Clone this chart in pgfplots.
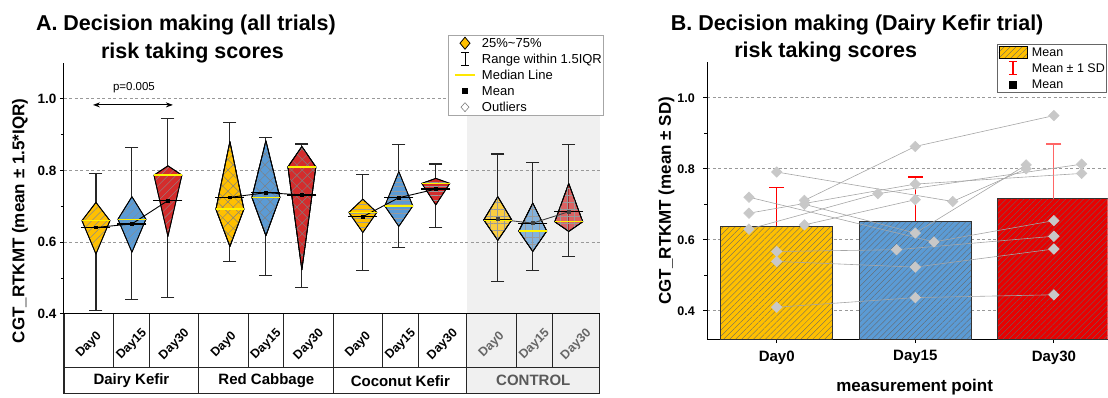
\documentclass[border=0pt]{standalone}
\usepackage{fontspec}
\setmainfont{Liberation Sans}
\usepackage{pgfplots}
\pgfplotsset{compat=1.18}
\usetikzlibrary{patterns.meta,arrows.meta}

\definecolor{yA}{HTML}{FFC000}
\definecolor{bA}{HTML}{5B9BD5}
\definecolor{rA}{HTML}{D42C2C}
\definecolor{rB}{HTML}{E80000}
\definecolor{ptgray}{HTML}{C8C8C8}
\definecolor{lngray}{HTML}{A6A6A6}
\definecolor{bggray}{HTML}{F0F0F0}
\newcommand\fs[1]{\fontsize{#1}{#1}\selectfont}

\pgfplotsset{
 whisk/.style={color=black!85, line width=1.1pt, forget plot},
 capm/.style={color=black!85, only marks, mark=-, mark size=6.5pt, mark options={line width=1.1pt}, forget plot},
 medm/.style={color=yellow, only marks, mark=-, mark size=14pt, mark options={line width=1.4pt}, forget plot},
 meanm/.style={color=black, only marks, mark=-, mark size=14.5pt, mark options={line width=1.3pt}, forget plot},
 kite/.style={fill=#1, draw=black, line width=0.8pt, line join=round, forget plot},
 pDK/.style={postaction={pattern={Lines[angle=45,distance=5.5pt,line width=0.45pt]}, pattern color=black!45}},
 pRC/.style={postaction={pattern={Lines[angle=45,distance=7.5pt,line width=0.45pt]}, pattern color=black!50},
             postaction={pattern={Lines[angle=-45,distance=7.5pt,line width=0.45pt]}, pattern color=black!50}},
 pCK/.style={postaction={pattern={Lines[angle=0,distance=4.5pt,line width=0.4pt]}, pattern color=black!40}},
 pCT/.style={fill opacity=0.72,
             postaction={pattern={Lines[angle=0,distance=7pt,line width=0.4pt]}, pattern color=black!40},
             postaction={pattern={Lines[angle=90,distance=7pt,line width=0.4pt]}, pattern color=black!40}},
 meanline/.style={color=#1, line width=0.9pt, mark=square*, mark size=1.4pt, forget plot},
 subj/.style={color=lngray, line width=0.6pt, mark=square*, mark size=3.7pt,
              mark options={rotate=45, fill=ptgray, draw=ptgray}, forget plot},
 barB/.style={ybar, bar width=0.81, bar shift=0pt, fill=#1, draw=black!80, line width=0.8pt,
              postaction={pattern={Lines[angle=45,distance=4.2pt,line width=0.35pt]}, pattern color=black!60}, forget plot},
}

% #1 x, #2 min, #3 q25, #4 median, #5 q75, #6 max, #7 mean, #8 colour, #9 pattern
\newcommand\bx[9]{%
  \pgfmathsetmacro\kl{#1-14}\pgfmathsetmacro\kr{#1+14}%
  \addplot[whisk] coordinates {(#1,#2) (#1,#6)};
  \addplot[capm] coordinates {(#1,#2) (#1,#6)};
  \addplot[kite=#8,#9] coordinates {(#1,#5) (\kr,#4) (#1,#3) (\kl,#4) (#1,#5)};
  \addplot[medm] coordinates {(#1,#4)};
  \addplot[meanm] coordinates {(#1,#7)};
}

\begin{document}
\begin{tikzpicture}
\begin{scope}[x=1pt,y=1pt]
\path (0,0) rectangle (1108,396);
\fill[bggray] (467,82) rectangle (600,333);
\fill[bggray] (467,2) rectangle (600,82);
\node[anchor=base, font=\bfseries\fs{21.5}] at (186,365) {A. Decision making (all trials)};
\node[anchor=base, font=\bfseries\fs{21.5}] at (192.5,337.7) {risk taking scores};
\node[anchor=base, font=\bfseries\fs{21.5}] at (857.5,365) {B. Decision making (Dairy Kefir trial)};
\node[anchor=base, font=\bfseries\fs{21.5}] at (826,338.5) {risk taking scores};
\end{scope}

\begin{axis}[
  at={(64pt,82pt)}, anchor=south west, scale only axis, width=536pt, height=251pt,
  xmin=64, xmax=600, ymin=0.4, ymax=1.1,
  axis x line*=bottom, axis y line*=left,
  axis line style={black, line width=1pt},
  cycle list={{black}},
  xtick={89,132,174.5,224,266.5,309,358.5,401,443,492,535,576.5},
  xticklabels={Day0,Day15,Day30,Day0,Day15,Day30,Day0,Day15,Day30,
    {\textcolor{black!60}{Day0}},{\textcolor{black!60}{Day15}},{\textcolor{black!60}{Day30}}},
  xtick style={draw=none},
  xticklabel style={yshift=-27pt, rotate=45, anchor=center, font=\bfseries\fs{12.5}},
  ytick={0.4,0.6,0.8,1.0}, yticklabels={0.4,0.6,0.8,1.0}, minor ytick={0.5,0.7,0.9},
  yticklabel style={font=\bfseries\fs{13.5}},
  tick align=outside, major tick length=4pt, minor tick length=3pt,
  ytick style={black, line width=0.9pt},
  ymajorgrids, major grid style={black!40, dash pattern=on 3pt off 2.5pt, line width=0.8pt},
  ylabel={CGT\_RTKMT (mean ± 1.5*IQR)},
  ylabel style={font=\bfseries\fs{17}, at={(axis description cs:-0.082,0.37)}, anchor=center},
  legend cell align=left,
  legend style={at={(axis cs:448,1.178)}, anchor=north west, draw=black!35, fill=white,
    inner sep=1pt, row sep=2pt, column sep=1pt, font=\fs{13},
    nodes={inner sep=0pt, text height=11.5pt, text depth=2.5pt}},
]
\addlegendimage{legend image code/.code={\path[draw=none,fill=none] (0pt,-7pt) rectangle (32pt,7pt);
  \draw[fill=yA, draw=black, line width=0.8pt] (16pt,6pt)--(21pt,0pt)--(16pt,-6pt)--(11pt,0pt)--cycle;}}
\addlegendentry{25\%\textasciitilde75\%}
\addlegendimage{legend image code/.code={\path[draw=none,fill=none] (0pt,-7pt) rectangle (32pt,7pt);
  \draw[black, line width=0.9pt] (12pt,-6.5pt)--(20pt,-6.5pt) (16pt,-6.5pt)--(16pt,6.5pt) (12pt,6.5pt)--(20pt,6.5pt);}}
\addlegendentry{Range within 1.5IQR}
\addlegendimage{legend image code/.code={\path[draw=none,fill=none] (0pt,-7pt) rectangle (32pt,7pt);
  \draw[yellow!90!orange, line width=1.5pt] (6pt,0pt)--(26pt,0pt);}}
\addlegendentry{Median Line}
\addlegendimage{legend image code/.code={\path[draw=none,fill=none] (0pt,-7pt) rectangle (32pt,7pt);
  \fill[black] (13.5pt,-2.5pt) rectangle (18.5pt,2.5pt);}}
\addlegendentry{Mean}
\addlegendimage{legend image code/.code={\path[draw=none,fill=none] (0pt,-7pt) rectangle (32pt,7pt);
  \draw[black!50, fill=white, line width=0.6pt] (16pt,4.5pt)--(20pt,0pt)--(16pt,-4.5pt)--(12pt,0pt)--cycle;}}
\addlegendentry{Outliers}

% Dairy Kefir
\bx{96}{0.409}{0.567}{0.660}{0.711}{0.792}{0.641}{yA}{pDK}
\bx{132}{0.439}{0.572}{0.664}{0.727}{0.864}{0.651}{bA}{pDK}
\bx{168}{0.446}{0.616}{0.787}{0.813}{0.946}{0.716}{rA}{pDK}
\addplot[meanline=black] coordinates {(96,0.641) (132,0.651) (168,0.716)};
% Red Cabbage
\bx{230}{0.547}{0.588}{0.692}{0.881}{0.934}{0.725}{yA}{pRC}
\bx{266}{0.506}{0.618}{0.725}{0.883}{0.893}{0.738}{bA}{pRC}
\bx{302}{0.474}{0.523}{0.810}{0.867}{0.874}{0.732}{rA}{pRC}
\addplot[meanline=black] coordinates {(230,0.725) (266,0.738) (302,0.732)};
% Coconut Kefir
\bx{363}{0.520}{0.627}{0.683}{0.720}{0.790}{0.671}{yA}{pCK}
\bx{399}{0.585}{0.644}{0.701}{0.797}{0.873}{0.724}{bA}{pCK}
\bx{436}{0.641}{0.704}{0.764}{0.778}{0.818}{0.748}{rA}{pCK}
\addplot[meanline=black] coordinates {(363,0.671) (399,0.724) (436,0.748)};
% Control
\bx{498}{0.490}{0.605}{0.662}{0.727}{0.846}{0.664}{yA}{pCT}
\bx{533}{0.521}{0.574}{0.631}{0.709}{0.822}{0.653}{bA}{pCT}
\bx{569}{0.560}{0.630}{0.657}{0.764}{0.873}{0.685}{rA}{pCT}
\addplot[meanline=black!75] coordinates {(498,0.664) (533,0.653) (569,0.685)};

\addplot[black, line width=1.1pt, arrows={Stealth[length=7pt,width=5pt]-Stealth[length=7pt,width=5pt]}, forget plot]
  coordinates {(93,0.983) (173,0.983)};
\node[font=\fs{11.5}] at (axis cs:134,1.03) {p=0.005};
\end{axis}

\begin{scope}[x=1pt,y=1pt]
\draw[black!85, line width=1.1pt] (64,82)--(64,2)--(600,2)--(600,82) (64,28)--(600,28)
  (199,82)--(199,2) (334,82)--(334,2) (467,82)--(467,2);
\draw[black!85, line width=1.1pt] (114,82)--(114,28) (150,82)--(150,28) (249,82)--(249,28) (284,82)--(284,28)
  (383,82)--(383,28) (419,82)--(419,28) (517,82)--(517,28) (553,82)--(553,28);
\node[font=\bfseries\fs{15}] at (131.5,15) {Dairy Kefir};
\node[font=\bfseries\fs{15}] at (266.5,15) {Red Cabbage};
\node[font=\bfseries\fs{15}] at (400.5,15) {Coconut Kefir};
\node[font=\bfseries\fs{15}, text=black!65] at (533.5,15) {CONTROL};
\end{scope}

\begin{axis}[
  at={(707.7pt,56.7pt)}, anchor=south west, scale only axis, width=400.3pt, height=276.9pt,
  xmin=-0.5, xmax=2.387, ymin=0.32, ymax=1.1,
  axis x line*=bottom, axis y line*=left,
  axis line style={black, line width=1pt},
  cycle list={{black}},
  xtick={0,1,2}, xticklabels={Day0,Day15,Day30},
  xticklabel style={font=\bfseries\fs{15}, yshift=-4pt},
  ytick={0.4,0.6,0.8,1.0}, yticklabels={0.4,0.6,0.8,1.0}, minor ytick={0.5,0.7,0.9},
  yticklabel style={font=\bfseries\fs{12.5}, xshift=-5pt},
  tick align=outside, major tick length=4pt, minor tick length=3pt,
  tick style={black, line width=0.9pt},
  ymajorgrids, major grid style={black!40, dash pattern=on 3pt off 2.5pt, line width=0.8pt},
  xlabel={measurement point}, ylabel={CGT\_RTKMT (mean ± SD)},
  label style={font=\bfseries\fs{17}},
  xlabel style={at={(axis description cs:0.518,-0.172)}, anchor=center},
  ylabel style={at={(axis description cs:-0.102,0.5)}, anchor=center},
  legend cell align=left,
  legend style={at={(axis cs:1.588,1.152)}, anchor=north west, draw=black!60, fill=white,
    inner sep=1pt, row sep=2pt, column sep=4pt, font=\fs{12.5},
    nodes={inner sep=0pt, text height=11.5pt, text depth=2.5pt}},
]
\addlegendimage{legend image code/.code={\path[draw=none,fill=none] (0pt,-7pt) rectangle (30pt,7pt);
  \draw[fill=yA, draw=black, line width=0.8pt, postaction={pattern={Lines[angle=45,distance=4.2pt,line width=0.35pt]}, pattern color=black!60}] (1pt,-6pt) rectangle (29pt,6pt);}}
\addlegendentry{Mean}
\addlegendimage{legend image code/.code={\path[draw=none,fill=none] (0pt,-7pt) rectangle (30pt,7pt);
  \draw[red, line width=1.2pt] (11pt,-6.5pt)--(19pt,-6.5pt) (15pt,-6.5pt)--(15pt,6.5pt) (11pt,6.5pt)--(19pt,6.5pt);}}
\addlegendentry{Mean ± 1 SD}
\addlegendimage{legend image code/.code={\path[draw=none,fill=none] (0pt,-7pt) rectangle (30pt,7pt);
  \fill[black] (11.5pt,-3.5pt) rectangle (18.5pt,3.5pt);}}
\addlegendentry{Mean}

\addplot[barB=yA] coordinates {(0,0.638)};
\addplot[barB=bA] coordinates {(1,0.652)};
\addplot[barB=rB] coordinates {(2,0.716)};

\addplot[red, line width=1.2pt, forget plot] coordinates {(0,0.638) (0,0.747)};
\addplot[red, only marks, mark=-, mark size=7.5pt, mark options={line width=1.2pt}, forget plot] coordinates {(0,0.747)};
\addplot[red, line width=1.2pt, forget plot] coordinates {(1,0.652) (1,0.777)};
\addplot[red, only marks, mark=-, mark size=7.5pt, mark options={line width=1.2pt}, forget plot] coordinates {(1,0.777)};
\addplot[red!60, line width=1.2pt, forget plot] coordinates {(2,0.716) (2,0.870)};
\addplot[red!60, only marks, mark=-, mark size=7.5pt, mark options={line width=1.2pt}, forget plot] coordinates {(2,0.870)};

\addplot[subj] coordinates {(-0.2,0.720) (1.135,0.594) (2.0,0.654)};
\addplot[subj] coordinates {(-0.2,0.675) (1.0,0.757) (2.2,0.787)};
\addplot[subj] coordinates {(-0.2,0.630) (0.73,0.730) (2.2,0.813)};
\addplot[subj] coordinates {(0,0.791) (1.27,0.708) (1.8,0.800)};
\addplot[subj] coordinates {(0.2,0.711) (1.0,0.863) (2.0,0.950)};
\addplot[subj] coordinates {(0.2,0.700) (1.0,0.619) (1.8,0.811)};
\addplot[subj] coordinates {(0.2,0.642) (1.0,0.713)};
\addplot[subj] coordinates {(0,0.567) (0.865,0.572) (2.0,0.610)};
\addplot[subj] coordinates {(0,0.539) (1.0,0.523) (2.0,0.574)};
\addplot[subj] coordinates {(0,0.410) (1.0,0.437) (2.0,0.445)};
\end{axis}
\end{tikzpicture}
\end{document}
